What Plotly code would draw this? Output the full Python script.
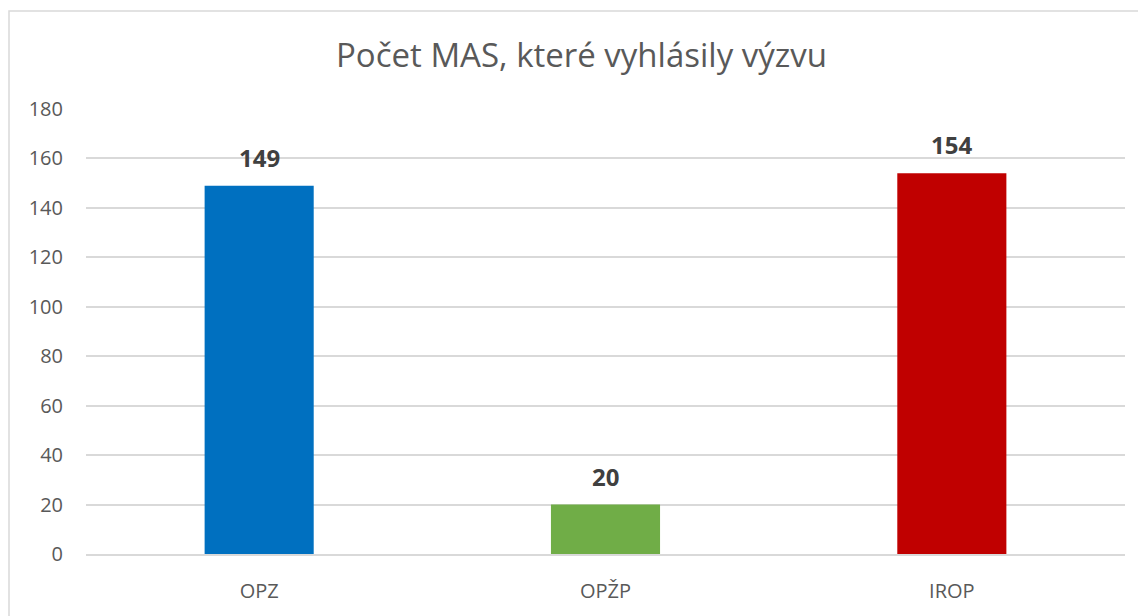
import plotly.graph_objects as go

categories = ["OPZ", "OPŽP", "IROP"]
values = [149, 20, 154]
colors = ["#0070C0", "#70AD47", "#C00000"]
y_ticks = [0, 20, 40, 60, 80, 100, 120, 140, 160, 180]
title_text = "Počet MAS, které vyhlásily výzvu"

W, H = 1138, 616
ml, mr, mt, mb = 86, 13, 109, 58
pw, ph = W - ml - mr, H - mt - mb

fig = go.Figure()
fig.add_trace(go.Bar(
    x=categories, y=values, marker=dict(color=colors, line=dict(width=0)),
    width=0.315, showlegend=False, hoverinfo="x+y",
))

for c, v in zip(categories, values):
    fig.add_annotation(x=c, y=v, text=f"<b>{v}</b>", showarrow=False,
                       yanchor="bottom", yshift=10,
                       font=dict(family="Open Sans", size=24, color="#404040"))

# chart border (left and top visible)
fig.add_shape(type="rect", xref="paper", yref="paper",
              x0=(9 - ml) / pw, x1=1.2, y0=-0.3, y1=(H - mb - 10) / ph,
              line=dict(color="#d9d9d9", width=1.5), layer="below")

fig.update_layout(
    width=W, height=H,
    margin=dict(l=ml, r=mr, t=mt, b=mb),
    paper_bgcolor="white", plot_bgcolor="white",
    title=dict(text=title_text, x=581.5 / W, xref="container", xanchor="center",
               y=1 - 55 / H, yanchor="middle",
               font=dict(family="Open Sans", size=33, color="#595959")),
    font=dict(family="Open Sans", color="#595959"),
)
fig.update_yaxes(range=[0, 180], tickvals=y_ticks, showgrid=True, gridcolor="#d9d9d9",
                 gridwidth=1.5, zeroline=False, showline=False, ticks="",
                 tickfont=dict(family="Open Sans", size=20, color="#595959"),
                 ticklabelstandoff=22, fixedrange=True)
fig.update_xaxes(showline=True, linecolor="#d9d9d9", linewidth=1.5, ticks="",
                 tickfont=dict(family="Open Sans", size=20, color="#595959"),
                 ticklabelstandoff=18, fixedrange=True)

fig.write_html(
    "out.html",
    config={"displayModeBar": False},
    post_script="document.body.style.margin='0';document.body.style.overflow='hidden';",
)
